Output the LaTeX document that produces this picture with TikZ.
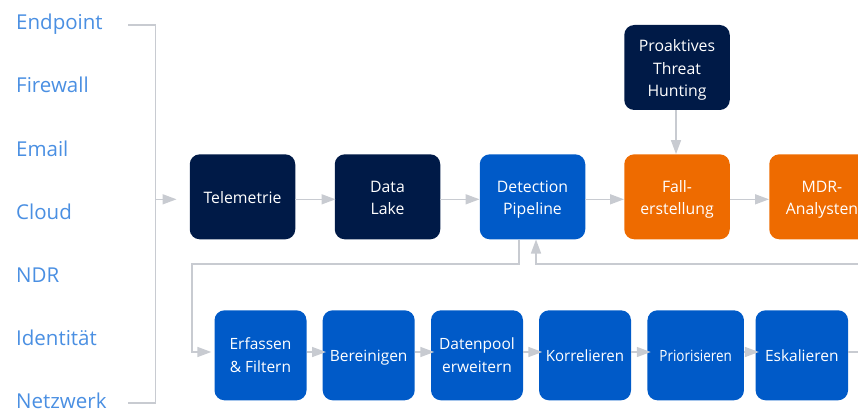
\documentclass[tikz,border=0pt]{standalone}
\usepackage{fontspec}
\usepackage{graphicx}
\setmainfont{Open Sans}
\usetikzlibrary{arrows.meta,calc}
\definecolor{navy}{HTML}{001A47}
\definecolor{sblue}{HTML}{005AC8}
\definecolor{sorange}{HTML}{EE6B00}
\definecolor{lbl}{HTML}{4A8FE2}
\definecolor{conn}{HTML}{C8CBD1}
\newcommand{\uts}{\rule{0pt}{17.3pt}}
\newcommand{\lts}{\rule{0pt}{16.1pt}}
\newcommand{\bst}{\rule[-4pt]{0pt}{4pt}}
\tikzset{
  upbox/.style={rounded corners=10pt, minimum width=105.5pt, minimum height=85pt, inner sep=0pt, align=center, text=white, font=\fontsize{15.8}{22.5}\selectfont},
  lowbox/.style={rounded corners=10pt, fill=sblue, minimum width=92pt, minimum height=90pt, inner sep=0pt, align=center, text=white, font=\fontsize{15.5}{23}\selectfont},
  src/.style={anchor=base west, inner sep=0pt, text=lbl, font=\fontsize{20.5}{24}\selectfont},
  conline/.style={draw=conn, line width=1.5pt},
  arr/.style={conline, -{Triangle[length=14pt,width=10pt]}},
}
\begin{document}
\begin{tikzpicture}[x=1pt,y=-1pt]
\useasboundingbox (0,0) rectangle (858,409);
\clip (0,0) rectangle (858,409);
% source labels
\node[src] (s1) at (16,30) {Endpoint};
\node[src] (s2) at (16,93) {Firewall};
\node[src] (s3) at (16,156) {Email};
\node[src] (s4) at (16,219) {Cloud};
\node[src] (s5) at (16,282) {NDR};
\node[src] (s6) at (16,345) {Identität};
\node[src] (s7) at (16,408) {Netzwerk};
% upper row
\node[upbox, fill=navy] (tel) at (242.5,196.8) {\uts Telemetrie\bst};
\node[upbox, fill=navy] (lake) at (387.5,196.8) {\uts Data\\Lake\bst};
\node[upbox, fill=sblue] (dp) at (532.5,196.8) {\uts Detection\\Pipeline\bst};
\node[upbox, fill=sorange] (fall) at (677,196.8) {\uts Fall-\\erstellung\bst};
\node[upbox, fill=sorange] (mdr) at (822,196.8) {\uts MDR-\\Analysten\bst};
\node[upbox, fill=navy] (hunt) at (677,67.5) {\uts Proaktives\\Threat\\Hunting\bst};
% lower row
\node[lowbox] (erf) at (260.5,355.3) {\lts Erfassen\\\&~Filtern\bst};
\node[lowbox] (ber) at (368.7,355.3) {\lts Bereinigen\bst};
\node[lowbox] (dat) at (477,355.3) {\lts Datenpool\\erweitern\bst};
\node[lowbox] (kor) at (585,355.3) {\lts\scalebox{0.97}[1]{Korrelieren}\bst};
\node[lowbox, minimum width=96.5pt] (pri) at (695.7,355.3) {\lts\scalebox{0.87}[1]{Priorisieren}\bst};
\node[lowbox, minimum width=92.5pt] (esk) at (801.8,355.3) {\lts Eskalieren\bst};
% bracket
\coordinate (bt) at (155.5,25);
\coordinate (bb) at (155.5,403);
\coordinate (bm) at (155.5,199.3);
\coordinate (bl1) at (128,25);
\coordinate (bl2) at (128,403);
\draw[conline] (bl1) -- (bt) -- (bb) -- (bl2);
\draw[arr, shorten >=13pt] (bm) -- (bm -| tel.west);
% upper connections
\draw[arr, shorten >=-1pt] ([yshift=-2.5pt]tel.east) -- ([yshift=-2.5pt]lake.west);
\draw[arr] ([yshift=-2.5pt]lake.east) -- ([yshift=-2.5pt]dp.west);
\draw[arr] ([yshift=-2.5pt]dp.east) -- ([yshift=-2.5pt]fall.west);
\draw[arr] ([yshift=-2.5pt]fall.east) -- ([yshift=-2.5pt]mdr.west);
\draw[arr] ([xshift=-1pt]hunt.south) -- ([xshift=-1pt]fall.north);
% loop to lower row
\coordinate (lc) at (192,264);
\draw[arr, shorten >=3pt] ([xshift=-13.5pt]dp.south) |- (lc) |- ([yshift=3.3pt]erf.west);
\draw[arr, shorten >=-3.5pt] ([yshift=3.3pt]erf.east) -- ([yshift=3.3pt]ber.west);
\draw[arr, shorten >=-3.5pt] ([yshift=3.3pt]ber.east) -- ([yshift=3.3pt]dat.west);
\draw[arr, shorten >=-3.5pt] ([yshift=3.3pt]dat.east) -- ([yshift=3.3pt]kor.west);
\draw[arr, shorten >=-3.5pt] ([yshift=3.3pt]kor.east) -- ([yshift=3.3pt]pri.west);
\draw[arr, shorten >=-3.5pt] ([yshift=3.3pt]pri.east) -- ([yshift=3.3pt]esk.west);
\coordinate (ru) at (875,264);
\draw[arr] ([yshift=3.3pt]esk.east) -| (ru) -| ([xshift=3.5pt]dp.south);
\end{tikzpicture}
\end{document}
